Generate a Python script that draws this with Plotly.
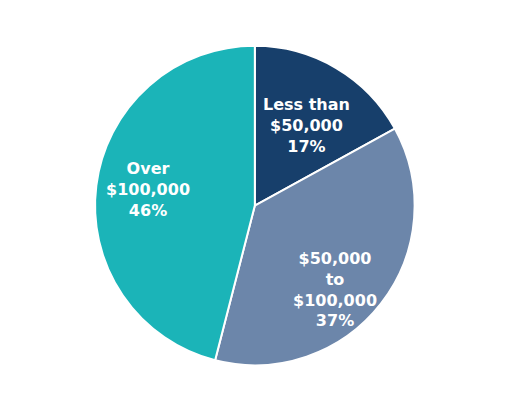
import plotly.graph_objects as go

labels = ["Less than<br>$50,000", "$50,000<br>to<br>$100,000", "Over<br>$100,000"]
values = [17, 37, 46]
colors = ["#173F6B", "#6C86AA", "#1BB4B8"]

# label centres in pixels (x, y from top of the plot div), one per slice
label_pos = [(298, 117), (327, 281), (140, 181)]

W, H = 510, 415

fig = go.Figure(go.Pie(
    labels=labels,
    values=values,
    sort=False,
    direction="clockwise",
    rotation=0,
    marker=dict(colors=colors, line=dict(color="white", width=2)),
    textinfo="none",
    hoverinfo="label+percent",
    domain=dict(x=[0.17, 0.798], y=[0.139, 0.909]),
))

for lab, val, (px_, py_) in zip(labels, values, label_pos):
    fig.add_annotation(
        x=px_ / W, y=1 - py_ / H, xref="paper", yref="paper",
        text=f"{lab}<br>{val}%", showarrow=False,
        xanchor="center", yanchor="middle",
        font=dict(family="DejaVu Sans", size=16, color="white", weight="bold"),
    )

fig.update_layout(
    width=W, height=H,
    showlegend=False,
    margin=dict(l=0, r=0, t=0, b=0),
    paper_bgcolor="white",
)

fig.write_html("out.html")
